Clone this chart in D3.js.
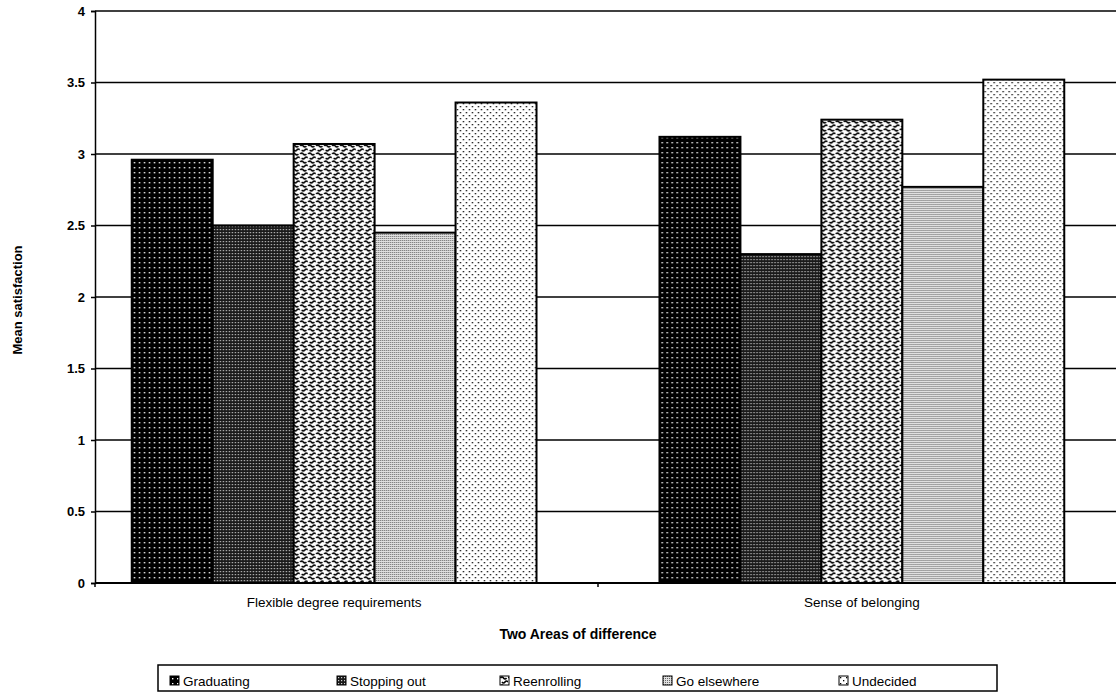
<!DOCTYPE html>
<html>
<head>
<meta charset="utf-8">
<script src="https://cdn.jsdelivr.net/npm/d3@7"></script>
<style>
  body { margin: 0; background: #fff; }
  svg { display: block; font-family: "Liberation Sans", Arial, sans-serif; }
</style>
</head>
<body>
<div id="chart"></div>
<script>
// data
var categories = ["Flexible degree requirements", "Sense of belonging"];
var series = ["Graduating", "Stopping out", "Reenrolling", "Go elsewhere", "Undecided"];
var graduating = [2.96, 3.12];
var stoppingOut = [2.50, 2.30];
var reenrolling = [3.07, 3.24];
var goElsewhere = [2.45, 2.77];
var undecided = [3.36, 3.52];
var yTicks = [0, 0.5, 1, 1.5, 2, 2.5, 3, 3.5, 4];

var values = [graduating, stoppingOut, reenrolling, goElsewhere, undecided];

var w = 1116, h = 695;
var plotLeft = 95, plotRight = 1116, plotTop = 11, plotBottom = 583;

var svg = d3.select("#chart").append("svg")
  .attr("width", w).attr("height", h);

// patterns standing in for the scanned fills
var defs = svg.append("defs");
var pats = ["p0", "p1", "p2", "p3", "p4"];

var p0 = defs.append("pattern").attr("id", "p0").attr("patternUnits", "userSpaceOnUse")
  .attr("width", 5).attr("height", 5);
p0.append("rect").attr("width", 5).attr("height", 5).attr("fill", "#000");
p0.append("rect").attr("x", 2).attr("y", 2).attr("width", 1.4).attr("height", 1.4).attr("fill", "#fff");

var p1 = defs.append("pattern").attr("id", "p1").attr("patternUnits", "userSpaceOnUse")
  .attr("width", 3).attr("height", 3);
p1.append("rect").attr("width", 3).attr("height", 3).attr("fill", "#1a1a1a");
p1.append("rect").attr("x", 1).attr("y", 1).attr("width", 1.2).attr("height", 1.2).attr("fill", "#ccc");

var p2 = defs.append("pattern").attr("id", "p2").attr("patternUnits", "userSpaceOnUse")
  .attr("width", 8).attr("height", 8);
p2.append("rect").attr("width", 8).attr("height", 8).attr("fill", "#fff");
p2.append("path").attr("d", "M0.5,2 q1.5,-2 3,0 t3,0 M2,6 q1.5,2 3,0 t3,0")
  .attr("fill", "none").attr("stroke", "#000").attr("stroke-width", 1.6);

var p3 = defs.append("pattern").attr("id", "p3").attr("patternUnits", "userSpaceOnUse")
  .attr("width", 2).attr("height", 2);
p3.append("rect").attr("width", 2).attr("height", 2).attr("fill", "#e0e0e0");
p3.append("rect").attr("width", 1).attr("height", 1).attr("fill", "#666");

var p4 = defs.append("pattern").attr("id", "p4").attr("patternUnits", "userSpaceOnUse")
  .attr("width", 6).attr("height", 6);
p4.append("rect").attr("width", 6).attr("height", 6).attr("fill", "#fff");
p4.append("rect").attr("x", 1).attr("y", 1).attr("width", 1.3).attr("height", 1.3).attr("fill", "#000");
p4.append("rect").attr("x", 4).attr("y", 4).attr("width", 1.3).attr("height", 1.3).attr("fill", "#000");

var y = d3.scaleLinear().domain([0, 4]).range([plotBottom, plotTop]);

var x0 = d3.scaleBand().domain(categories).range([70, 1126])
  .paddingInner(0.233).paddingOuter(0.117);
var x1 = d3.scaleBand().domain(series).range([0, x0.bandwidth()]);

// gridlines
svg.append("g").selectAll("line").data(yTicks).enter().append("line")
  .attr("x1", plotLeft).attr("x2", plotRight)
  .attr("y1", function(d) { return y(d); })
  .attr("y2", function(d) { return y(d); })
  .attr("stroke", "#000").attr("stroke-width", 1.5);

// y axis
var yAxis = d3.axisLeft(y).tickValues(yTicks).tickSize(4).tickPadding(6)
  .tickFormat(function(d) { return d; });
var gy = svg.append("g").attr("transform", "translate(" + plotLeft + ",0)").call(yAxis);
gy.select(".domain").attr("stroke", "#000").attr("stroke-width", 1.5);
gy.selectAll(".tick line").attr("stroke", "#000").attr("stroke-width", 1.5);
gy.selectAll("text").attr("font-size", 13).attr("font-weight", "bold").attr("fill", "#000");

// bars
var groups = svg.append("g").selectAll("g").data(categories).enter().append("g")
  .attr("transform", function(d) { return "translate(" + x0(d) + ",0)"; });

groups.selectAll("rect")
  .data(function(c, ci) { return series.map(function(s, si) { return { s: s, i: si, v: values[si][ci] }; }); })
  .enter().append("rect")
  .attr("x", function(d) { return x1(d.s); })
  .attr("y", function(d) { return y(d.v); })
  .attr("width", x1.bandwidth())
  .attr("height", function(d) { return y(0) - y(d.v); })
  .attr("fill", function(d) { return "url(#" + pats[d.i] + ")"; })
  .attr("stroke", "#000").attr("stroke-width", 2);

// x axis
var xAxis = d3.axisBottom(x0).tickSize(0).tickPadding(14);
var gx = svg.append("g").attr("transform", "translate(0," + plotBottom + ")").call(xAxis);
gx.select(".domain").remove();
gx.selectAll("text").attr("font-size", 13.5).attr("fill", "#000");
svg.append("line").attr("x1", plotLeft).attr("x2", plotRight).attr("y1", plotBottom).attr("y2", plotBottom)
  .attr("stroke", "#000").attr("stroke-width", 2);
svg.append("line").attr("x1", plotLeft).attr("x2", plotLeft).attr("y1", plotBottom).attr("y2", plotBottom + 4)
  .attr("stroke", "#000").attr("stroke-width", 1.5);
var midX = x0(categories[1]) - x0.step() * x0.paddingInner() / 2;
svg.append("line").attr("x1", midX).attr("x2", midX)
  .attr("y1", plotBottom).attr("y2", plotBottom + 4)
  .attr("stroke", "#000").attr("stroke-width", 1.5);

// axis titles
svg.append("text").attr("x", 578).attr("y", 639).attr("text-anchor", "middle")
  .attr("font-size", 14).attr("font-weight", "bold").text("Two Areas of difference");
svg.append("text").attr("transform", "translate(22,300) rotate(-90)").attr("text-anchor", "middle")
  .attr("font-size", 13).attr("font-weight", "bold").text("Mean satisfaction");

// legend
var legendX = [170, 337, 500, 663, 839];
var lg = svg.append("g");
lg.append("rect").attr("x", 158).attr("y", 665).attr("width", 839).attr("height", 26)
  .attr("fill", "#fff").attr("stroke", "#000").attr("stroke-width", 1.5);
var li = lg.selectAll("g.item").data(series).enter().append("g").attr("class", "item")
  .attr("transform", function(d, i) { return "translate(" + legendX[i] + ",676)"; });
li.append("rect").attr("width", 9).attr("height", 9)
  .attr("fill", function(d, i) { return "url(#" + pats[i] + ")"; })
  .attr("stroke", "#000").attr("stroke-width", 1);
li.append("text").attr("x", 13).attr("y", 9.5).attr("font-size", 13.5).text(function(d) { return d; });
</script>
</body>
</html>
